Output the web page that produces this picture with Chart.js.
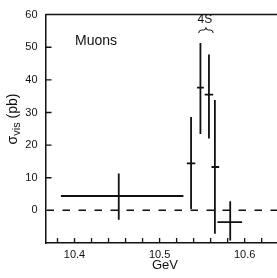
<!DOCTYPE html>
<html>
<head>
<meta charset="utf-8">
<script src="https://cdn.jsdelivr.net/npm/chart.js@4.4.1/dist/chart.umd.min.js"></script>
<style>
html,body{margin:0;padding:0;background:#fff;}
canvas{display:block;}
</style>
</head>
<body>
<canvas id="c" width="277" height="278"></canvas>
<script>
// Data (GeV, pb)
const xCenters = [10.452, 10.537, 10.548, 10.558, 10.565, 10.583];
const xLow     = [10.384, 10.532, 10.544, 10.553, 10.561, 10.568];
const xHigh    = [10.528, 10.542, 10.552, 10.563, 10.570, 10.597];
const sigmaVis = [4.4, 14.4, 37.6, 35.5, 13.3, -3.6];
const sigmaLow = [-2.9, 0.4, 23.4, 22.0, -7.2, -9.2];
const sigmaHigh= [11.3, 28.6, 51.3, 47.8, 33.8, 2.8];
const yTickValues = [0, 10, 20, 30, 40, 50, 60];
const xLabelValues = [10.4, 10.5, 10.6];
const resonanceLabel = '4S';
const resonanceRange = [10.546, 10.563];
const panelLabel = 'Muons';
const xTitle = 'GeV';

const X_MIN = 10.3659, X_MAX = 10.638, Y_MIN = -10, Y_MAX = 60;
const INK = '#111';
const FONT = '"Liberation Sans", Arial, sans-serif';

const drawPlugin = {
  id: 'physics',
  afterDraw(chart) {
    const ctx = chart.ctx;
    const xs = chart.scales.x, ys = chart.scales.y;
    const a = chart.chartArea;
    ctx.save();
    ctx.strokeStyle = INK;
    ctx.fillStyle = INK;
    ctx.lineCap = 'butt';
    // top frame
    ctx.lineWidth = 1.5;
    ctx.beginPath();
    ctx.moveTo(a.left, a.top); ctx.lineTo(a.right, a.top);
    ctx.stroke();
    // inward ticks
    ctx.lineWidth = 1.3;
    ctx.beginPath();
    xs.ticks.forEach(t => {
      const px = xs.getPixelForValue(t.value);
      ctx.moveTo(px, a.bottom); ctx.lineTo(px, a.bottom - 5);
    });
    yTickValues.forEach(v => {
      if (v === 0 || v === Y_MAX) return;
      const py = ys.getPixelForValue(v);
      ctx.moveTo(a.left, py); ctx.lineTo(a.left + 6, py);
    });
    ctx.stroke();
    // dashed zero line
    ctx.lineWidth = 1.5;
    ctx.setLineDash([7.5, 8.5]);
    ctx.beginPath();
    const y0 = ys.getPixelForValue(0);
    ctx.moveTo(a.left + 1, y0); ctx.lineTo(a.right, y0);
    ctx.stroke();
    ctx.setLineDash([]);
    // error bars
    ctx.lineWidth = 1.8;
    ctx.beginPath();
    for (let i = 0; i < xCenters.length; i++) {
      const cx = xs.getPixelForValue(xCenters[i]);
      const cy = ys.getPixelForValue(sigmaVis[i]);
      ctx.moveTo(xs.getPixelForValue(xLow[i]), cy);
      ctx.lineTo(xs.getPixelForValue(xHigh[i]), cy);
      ctx.moveTo(cx, ys.getPixelForValue(sigmaLow[i]));
      ctx.lineTo(cx, ys.getPixelForValue(sigmaHigh[i]));
    }
    ctx.stroke();
    // panel label
    ctx.font = '14px ' + FONT;
    ctx.textAlign = 'left';
    ctx.textBaseline = 'middle';
    ctx.fillText(panelLabel, 75, 41);
    // 4S label and brace
    const bx1 = xs.getPixelForValue(resonanceRange[0]);
    const bx2 = xs.getPixelForValue(resonanceRange[1]);
    const bm = (bx1 + bx2) / 2;
    ctx.font = '12px ' + FONT;
    ctx.textAlign = 'center';
    ctx.fillText(resonanceLabel, bm - 1, 20);
    ctx.lineWidth = 1;
    const by = 30;
    ctx.beginPath();
    ctx.moveTo(bx1, by + 3);
    ctx.quadraticCurveTo(bx1, by, bx1 + 3, by);
    ctx.lineTo(bm - 2.5, by);
    ctx.quadraticCurveTo(bm, by, bm, by - 2.5);
    ctx.quadraticCurveTo(bm, by, bm + 2.5, by);
    ctx.lineTo(bx2 - 3, by);
    ctx.quadraticCurveTo(bx2, by, bx2, by + 3);
    ctx.stroke();
    // x title
    ctx.font = '13px ' + FONT;
    ctx.textAlign = 'center';
    ctx.textBaseline = 'middle';
    ctx.fillText(xTitle, 165, 265);
    // y title: sigma_vis (pb)
    ctx.translate(13, 119);
    ctx.rotate(-Math.PI / 2);
    const f1 = '14px ' + FONT, f2 = '11px ' + FONT;
    ctx.font = f1; const w1 = ctx.measureText('σ').width;
    ctx.font = f2; const w2 = ctx.measureText('vis').width;
    ctx.font = f1; const w3 = ctx.measureText(' (pb)').width;
    let x = -(w1 + w2 + w3) / 2;
    ctx.textAlign = 'left';
    ctx.textBaseline = 'alphabetic';
    ctx.font = f1; ctx.fillText('σ', x, 4); x += w1;
    ctx.font = f2; ctx.fillText('vis', x, 7); x += w2;
    ctx.font = f1; ctx.fillText(' (pb)', x, 4);
    ctx.restore();
  }
};

new Chart(document.getElementById('c'), {
  type: 'scatter',
  data: {
    datasets: [{
      data: xCenters.map((x, i) => ({ x: x, y: sigmaVis[i] })),
      pointRadius: 0,
      showLine: false
    }]
  },
  options: {
    responsive: false,
    animation: false,
    devicePixelRatio: 1,
    layout: { padding: { top: 8, left: 0, right: 0, bottom: 0 } },
    plugins: { legend: { display: false }, tooltip: { enabled: false } },
    scales: {
      x: {
        type: 'linear', min: X_MIN, max: X_MAX,
        afterFit: s => { s.height = 35; },
        grid: { display: false, drawTicks: false },
        border: { display: true, color: INK, width: 1.5 },
        ticks: {
          stepSize: 0.02, includeBounds: false, autoSkip: false, maxRotation: 0,
          color: INK, padding: 5, font: { family: FONT, size: 11 },
          callback: v => {
            const hit = xLabelValues.find(l => Math.abs(l - v) < 1e-6);
            return hit !== undefined ? hit.toFixed(1) : '';
          }
        }
      },
      y: {
        type: 'linear', min: Y_MIN, max: Y_MAX,
        afterFit: s => { s.width = 45.5; },
        grid: { display: false, drawTicks: false },
        border: { display: true, color: INK, width: 1.5 },
        ticks: {
          stepSize: 10, autoSkip: false, color: INK, padding: 8,
          font: { family: FONT, size: 11 },
          callback: v => (yTickValues.includes(v) ? String(v) : '')
        }
      }
    }
  },
  plugins: [drawPlugin]
});
</script>
</body>
</html>
